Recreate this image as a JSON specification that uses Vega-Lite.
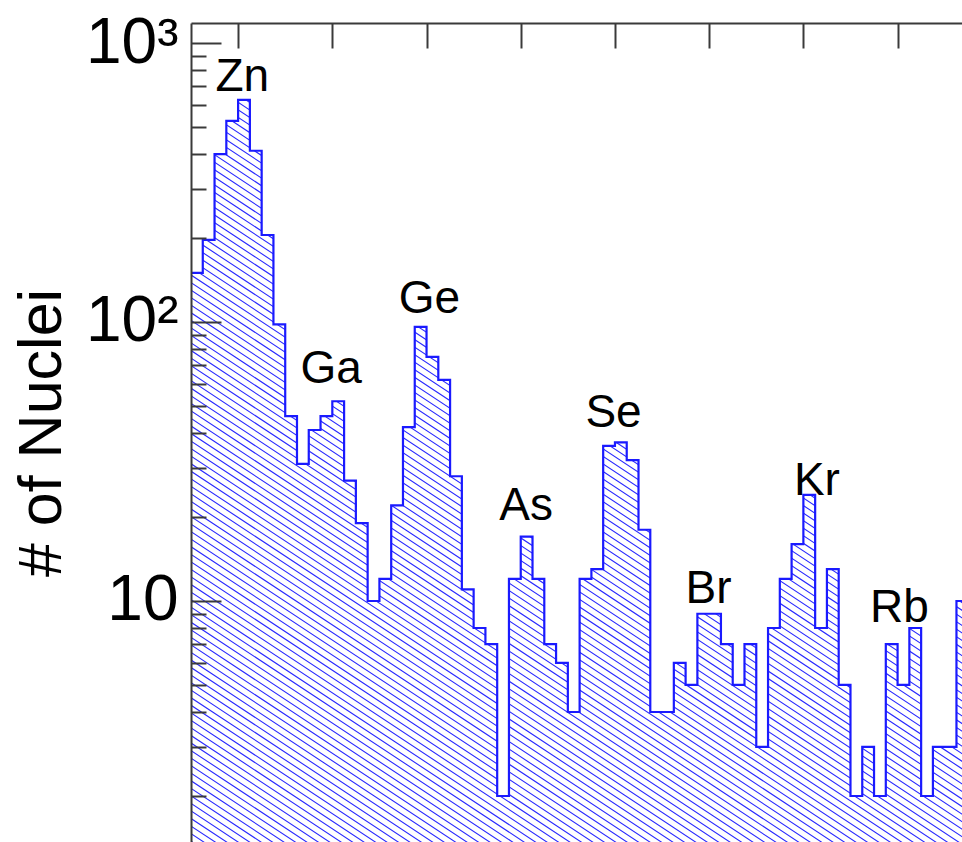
{
  "$schema": "https://vega.github.io/schema/vega-lite/v6.json",
  "width": 771,
  "height": 819,
  "autosize": {"type": "none"},
  "padding": {"left": 191, "top": 23, "right": 0, "bottom": 0},
  "background": "white",
  "config": {
    "view": {"stroke": null},
    "axis": {"grid": false, "domainColor": "#3a3a3a", "tickColor": "#3a3a3a", "domainWidth": 2, "tickWidth": 2, "labelFont": "Liberation Sans", "titleFont": "Liberation Sans"}
  },
  "data": {"values": [
    {"bin": 0, "count": 150}, {"bin": 1, "count": 197}, {"bin": 2, "count": 400}, {"bin": 3, "count": 526},
    {"bin": 4, "count": 625}, {"bin": 5, "count": 411}, {"bin": 6, "count": 205}, {"bin": 7, "count": 98},
    {"bin": 8, "count": 46}, {"bin": 9, "count": 31}, {"bin": 10, "count": 41}, {"bin": 11, "count": 46},
    {"bin": 12, "count": 52}, {"bin": 13, "count": 27}, {"bin": 14, "count": 19}, {"bin": 15, "count": 10},
    {"bin": 16, "count": 12}, {"bin": 17, "count": 22}, {"bin": 18, "count": 42}, {"bin": 19, "count": 96},
    {"bin": 20, "count": 75}, {"bin": 21, "count": 62}, {"bin": 22, "count": 28}, {"bin": 23, "count": 11},
    {"bin": 24, "count": 8}, {"bin": 25, "count": 7}, {"bin": 26, "count": 2}, {"bin": 27, "count": 12},
    {"bin": 28, "count": 17}, {"bin": 29, "count": 12}, {"bin": 30, "count": 7}, {"bin": 31, "count": 6},
    {"bin": 32, "count": 4}, {"bin": 33, "count": 12}, {"bin": 34, "count": 13}, {"bin": 35, "count": 36},
    {"bin": 36, "count": 37}, {"bin": 37, "count": 32}, {"bin": 38, "count": 18}, {"bin": 39, "count": 4},
    {"bin": 40, "count": 4}, {"bin": 41, "count": 6}, {"bin": 42, "count": 5}, {"bin": 43, "count": 9},
    {"bin": 44, "count": 9}, {"bin": 45, "count": 7}, {"bin": 46, "count": 5}, {"bin": 47, "count": 7},
    {"bin": 48, "count": 3}, {"bin": 49, "count": 8}, {"bin": 50, "count": 12}, {"bin": 51, "count": 16},
    {"bin": 52, "count": 24}, {"bin": 53, "count": 8}, {"bin": 54, "count": 13}, {"bin": 55, "count": 5},
    {"bin": 56, "count": 2}, {"bin": 57, "count": 3}, {"bin": 58, "count": 2}, {"bin": 59, "count": 7},
    {"bin": 60, "count": 5}, {"bin": 61, "count": 8}, {"bin": 62, "count": 2}, {"bin": 63, "count": 3},
    {"bin": 64, "count": 3}, {"bin": 65, "count": 10}, {"bin": 66, "count": 10}
  ]},
  "resolve": {"axis": {"x": "independent", "y": "independent"}},
  "layer": [
    {
      "data": {"values": [{}]},
      "mark": {"type": "rule", "clip": true, "strokeWidth": 1300, "strokeDash": [1.1, 5.2], "color": "#2a2aff", "strokeCap": "butt"},
      "encoding": {
        "x": {"datum": 0, "type": "quantitative", "scale": {"domain": [0, 65.47], "nice": false, "zero": false}, "axis": null},
        "y": {"datum": 0.3072, "type": "quantitative", "scale": {"type": "log", "domain": [1.368, 1179.6], "nice": false}, "axis": null},
        "x2": {"datum": 78.46},
        "y2": {"datum": 32020}
      }
    },
    {
      "mark": {"type": "area", "interpolate": "step-after", "color": "white", "clip": true},
      "encoding": {
        "x": {"field": "bin", "type": "quantitative", "scale": {"domain": [0, 65.47], "nice": false, "zero": false}, "axis": null},
        "y": {"field": "count", "type": "quantitative", "scale": {"type": "log", "domain": [1.368, 1179.6], "nice": false}, "axis": null},
        "y2": {"datum": 1179.6}
      }
    },
    {
      "mark": {"type": "line", "interpolate": "step-after", "color": "#1a1aff", "strokeWidth": 2.2, "clip": true},
      "encoding": {
        "x": {"field": "bin", "type": "quantitative", "scale": {"domain": [0, 65.47], "nice": false, "zero": false}, "axis": null},
        "y": {"field": "count", "type": "quantitative", "scale": {"type": "log", "domain": [1.368, 1179.6], "nice": false},
              "axis": {"orient": "left", "values": [10, 100, 1000], "tickSize": -30, "labelPadding": 43, "labelFontSize": 64, "labelColor": "black", "zindex": 1,
                       "labelExpr": "datum.value >= 1000 ? '10³' : datum.value >= 100 ? '10²' : '10'",
                       "title": "# of Nuclei", "titleFontSize": 61, "titleFontWeight": "normal", "titleColor": "black", "titlePadding": 12}}
      }
    },
    {
      "data": {"values": [
        {"el": "Zn", "pos": 4.36, "n": 674}, {"el": "Ga", "pos": 11.9, "n": 60.3}, {"el": "Ge", "pos": 20.25, "n": 107.5},
        {"el": "As", "pos": 28.46, "n": 19.5}, {"el": "Se", "pos": 35.88, "n": 42.1}, {"el": "Br", "pos": 43.95, "n": 9.81},
        {"el": "Kr", "pos": 53.15, "n": 24.0}, {"el": "Rb", "pos": 60.15, "n": 8.43}
      ]},
      "mark": {"type": "text", "font": "Liberation Sans", "fontSize": 46, "align": "center", "baseline": "alphabetic", "color": "black"},
      "encoding": {
        "x": {"field": "pos", "type": "quantitative", "scale": {"domain": [0, 65.47], "nice": false, "zero": false},
              "axis": {"orient": "top", "values": [4, 12, 20, 28, 36, 44, 52, 60], "labels": false, "tickSize": -25, "title": null, "domain": true, "zindex": 1}},
        "y": {"field": "n", "type": "quantitative", "scale": {"type": "log", "domain": [1.368, 1179.6], "nice": false},
              "axis": {"orient": "left", "values": [2, 3, 4, 5, 6, 7, 8, 9, 20, 30, 40, 50, 60, 70, 80, 90, 200, 300, 400, 500, 600, 700, 800, 900],
                       "tickSize": -15, "labels": false, "domain": false, "title": null, "zindex": 1}},
        "text": {"field": "el"}
      }
    }
  ]
}
